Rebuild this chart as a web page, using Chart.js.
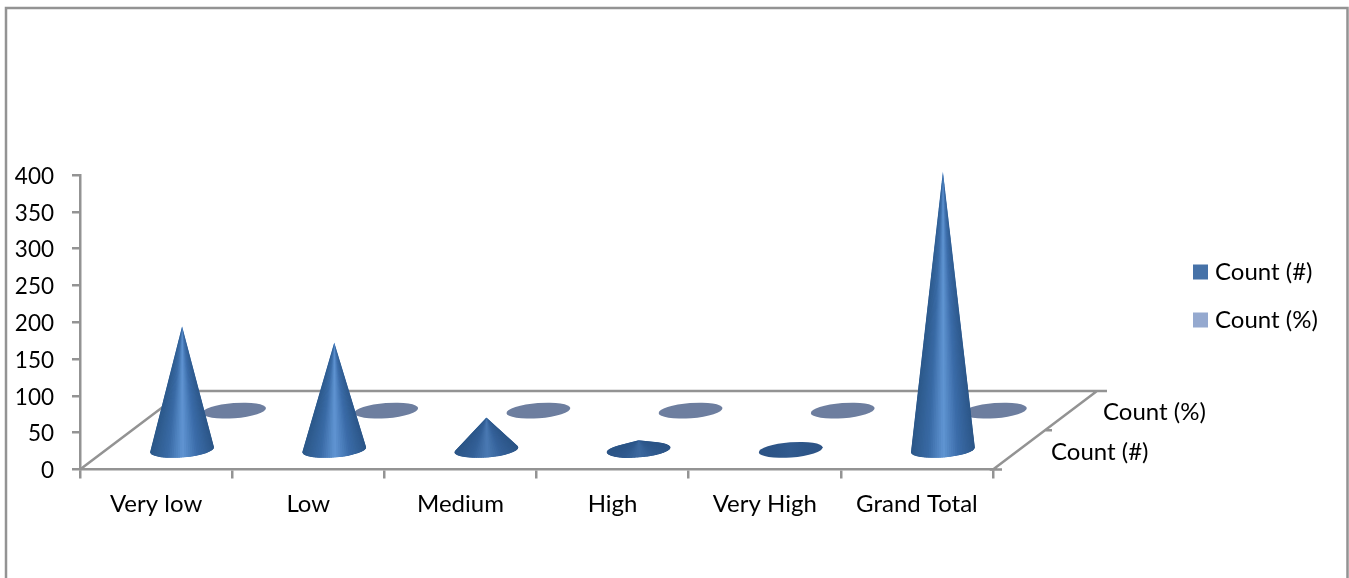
<!DOCTYPE html>
<html>
<head>
<meta charset="utf-8">
<style>
  html, body { margin: 0; padding: 0; background: #fff; }
  canvas { display: block; }
</style>
<script src="https://cdn.jsdelivr.net/npm/chart.js@4/dist/chart.umd.js"></script>
</head>
<body>
<canvas id="chart" width="1349" height="578"></canvas>
<script>
// Chart values
const categories = ['Very low', 'Low', 'Medium', 'High', 'Very High', 'Grand Total'];
const countValues = [168, 146, 44, 13, 1, 378];
const percentValues = [0.45, 0.39, 0.12, 0.03, 0, 1];
const seriesNames = ['Count (#)', 'Count (%)'];

// Floor of the 3D box, as an offset from its front edge to its back edge
const FLOOR_DX = 104;
const FLOOR_DY = 78.5;
// How far into the floor each series row sits
const ROW_DEPTH = [0.25, 0.75];
const BASE_RX = 32;
const BASE_RY = 7.6;
const BASE_TILT = -4.5 * Math.PI / 180;
const FRAME = '#939393';
const LINE_WIDTH = 2.5;
const FONT = 'Lato, "Open Sans", sans-serif';
const WORD_SIZE = 24;
const DIGIT_SIZE = 22.5;
const SLICES = 48;

// Side shading of a cone, across the base from left (0) to right (1)
const SHADE_STOPS = [0, 0.27, 0.5, 0.73, 1];
const SHADE_STEEP = ['#2c5889', '#396aa5', '#6095d3', '#3b6ca9', '#2c5687'].map(hex);
const SHADE_FLAT = ['#2c5385', '#2c5385', '#2d5588', '#2c5385', '#2c5385'].map(hex);

function hex(c) { return [1, 3, 5].map(i => parseInt(c.slice(i, i + 2), 16)); }
function shade(u, t) {
  let k = 0;
  while (k < SHADE_STOPS.length - 2 && u > SHADE_STOPS[k + 1]) k++;
  const f = Math.max(0, Math.min(1, (u - SHADE_STOPS[k]) / (SHADE_STOPS[k + 1] - SHADE_STOPS[k])));
  const rgb = [0, 1, 2].map(c => {
    const flat = SHADE_FLAT[k][c] + (SHADE_FLAT[k + 1][c] - SHADE_FLAT[k][c]) * f;
    const steep = SHADE_STEEP[k][c] + (SHADE_STEEP[k + 1][c] - SHADE_STEEP[k][c]) * f;
    return Math.round(flat + (steep - flat) * t);
  });
  return 'rgb(' + rgb.join(',') + ')';
}

// Bar controller whose elements are painted as upright cones on the floor
class ConeController extends Chart.BarController {
  draw() {
    const ctx = this.chart.ctx;
    const meta = this.getMeta();
    const depth = ROW_DEPTH[this.index];
    const zero = meta.vScale.getPixelForValue(0);
    meta.data.forEach((el, i) => {
      const top = meta.vScale.getPixelForValue(this.getParsed(i).y);
      const cx = el.x + depth * FLOOR_DX;
      const cy = zero - depth * FLOOR_DY;
      this.paintCone(ctx, cx, cy, zero - top);
    });
  }
  paintCone(ctx, cx, cy, h) {
    const cos = Math.cos(BASE_TILT), sin = Math.sin(BASE_TILT);
    // Apex in the ellipse's own coordinates, scaled to a unit circle
    const px = (-h * sin) / BASE_RX;
    const py = (-h * cos) / BASE_RY;
    const d = Math.hypot(px, py);
    const hasSide = d > 1;
    const a = Math.atan2(py, px);
    const b = hasSide ? Math.acos(1 / d) : 0;
    const from = a + b, to = a - b + Math.PI * 2;

    ctx.save();
    ctx.beginPath();
    if (hasSide) {
      ctx.ellipse(cx, cy, BASE_RX, BASE_RY, BASE_TILT, from, to);
      ctx.lineTo(cx, cy - h);
      ctx.closePath();
    } else {
      ctx.ellipse(cx, cy, BASE_RX, BASE_RY, BASE_TILT, 0, Math.PI * 2);
    }
    if (this.index === 1) {
      ctx.fillStyle = '#6d7e9f';
      ctx.fill();
      ctx.restore();
      return;
    }
    const t = Math.min(1, Math.sqrt(h / 100));
    const g = ctx.createLinearGradient(cx - BASE_RX, 0, cx + BASE_RX, 0);
    SHADE_STOPS.forEach(s => g.addColorStop(s, shade(s, t)));
    ctx.fillStyle = g;
    ctx.fill();

    // Side of the cone: shading bands converge on the apex
    if (hasSide) {
      ctx.clip();
      const pt = th => [
        cx + BASE_RX * Math.cos(th) * cos - BASE_RY * Math.sin(th) * sin,
        cy + BASE_RX * Math.cos(th) * sin + BASE_RY * Math.sin(th) * cos
      ];
      for (let k = 0; k < SLICES; k++) {
        const p = pt(from + (to - from) * k / SLICES);
        const q = pt(from + (to - from) * (k + 1.5) / SLICES);
        ctx.beginPath();
        ctx.moveTo(cx, cy - h);
        ctx.lineTo(p[0], p[1]);
        ctx.lineTo(q[0], q[1]);
        ctx.closePath();
        ctx.fillStyle = shade((p[0] + q[0]) / 2 / (2 * BASE_RX) - (cx - BASE_RX) / (2 * BASE_RX), t);
        ctx.fill();
      }
    }
    ctx.restore();
  }
}
ConeController.id = 'cone';
ConeController.defaults = Chart.BarController.defaults;
Chart.register(ConeController);

// Outer chart border, open along the bottom
const chartBorder = {
  id: 'chartBorder',
  beforeDraw(chart) {
    const c = chart.ctx;
    c.save();
    c.fillStyle = '#fff';
    c.fillRect(0, 0, chart.width, chart.height);
    c.strokeStyle = FRAME;
    c.lineWidth = LINE_WIDTH;
    c.beginPath();
    c.moveTo(6, 578);
    c.lineTo(6, 8);
    c.lineTo(1347.5, 8);
    c.lineTo(1347.5, 578);
    c.stroke();
    c.restore();
  }
};

// Floor outline, depth ticks and the depth axis labels
const floorBox = {
  id: 'floorBox',
  beforeDatasetsDraw(chart) {
    const c = chart.ctx;
    const { left, right, bottom } = chart.chartArea;
    c.save();
    c.strokeStyle = FRAME;
    c.lineWidth = LINE_WIDTH;
    c.beginPath();
    c.moveTo(left, bottom);
    c.lineTo(left + FLOOR_DX, bottom - FLOOR_DY);
    c.lineTo(right + FLOOR_DX + 10, bottom - FLOOR_DY);
    c.moveTo(right + FLOOR_DX, bottom - FLOOR_DY);
    c.lineTo(right, bottom);
    c.lineTo(right + 9, bottom);
    c.moveTo(right + FLOOR_DX / 2, bottom - FLOOR_DY / 2);
    c.lineTo(right + FLOOR_DX / 2 + 7, bottom - FLOOR_DY / 2);
    c.stroke();

    c.fillStyle = '#000';
    c.font = WORD_SIZE + 'px ' + FONT;
    c.textAlign = 'left';
    c.textBaseline = 'middle';
    seriesNames.forEach((name, i) => {
      const d = ROW_DEPTH[i];
      c.fillText(name, right + d * FLOOR_DX + 32, bottom - d * FLOOR_DY + 2);
    });
    c.restore();
  }
};

// Places the legend beside the plot and nudges the value labels onto their ticks
const labelPlacement = {
  id: 'labelPlacement',
  afterLayout(chart) {
    const lg = chart.legend;
    const w = lg.width, h = lg.height;
    lg.left = 1198 - lg.options.labels.padding;
    lg.right = lg.left + w;
    lg.top = 260 - lg.options.labels.padding;
    lg.bottom = lg.top + h;
    chart.scales.y.getLabelItems().forEach(item => { item.textOffset += 1.5; });
  }
};

new Chart(document.getElementById('chart'), {
  type: 'cone',
  data: {
    labels: categories,
    datasets: [
      { label: seriesNames[0], data: countValues, backgroundColor: '#4672a8', borderColor: '#4672a8', borderWidth: 10, grouped: false, clip: false },
      { label: seriesNames[1], data: percentValues, backgroundColor: '#95a9cf', borderColor: '#95a9cf', borderWidth: 10, grouped: false, clip: false }
    ]
  },
  options: {
    responsive: false,
    animation: false,
    font: { family: FONT },
    layout: { padding: { top: 175, right: 356, bottom: 0, left: 0 } },
    plugins: {
      tooltip: { enabled: false },
      legend: {
        position: 'chartArea',
        align: 'start',
        labels: {
          boxWidth: 5,
          boxHeight: 5,
          padding: 24,
          color: '#000',
          font: { family: FONT, size: WORD_SIZE }
        }
      }
    },
    scales: {
      x: {
        type: 'category',
        offset: true,
        afterFit(s) { s.height = 108.5; },
        border: { color: FRAME, width: LINE_WIDTH },
        grid: { offset: true, drawOnChartArea: false, color: FRAME, lineWidth: LINE_WIDTH, tickLength: 9 },
        ticks: { color: '#000', font: { family: FONT, size: WORD_SIZE }, padding: 11, maxRotation: 0 }
      },
      y: {
        type: 'linear',
        min: 0,
        max: 400,
        afterFit(s) { s.width = 80; },
        border: { color: FRAME, width: LINE_WIDTH },
        grid: { drawOnChartArea: false, color: FRAME, lineWidth: LINE_WIDTH, tickLength: 8 },
        ticks: { stepSize: 50, color: '#000', font: { family: FONT, size: DIGIT_SIZE }, padding: 18 }
      }
    }
  },
  plugins: [chartBorder, floorBox, labelPlacement]
});
</script>
</body>
</html>
